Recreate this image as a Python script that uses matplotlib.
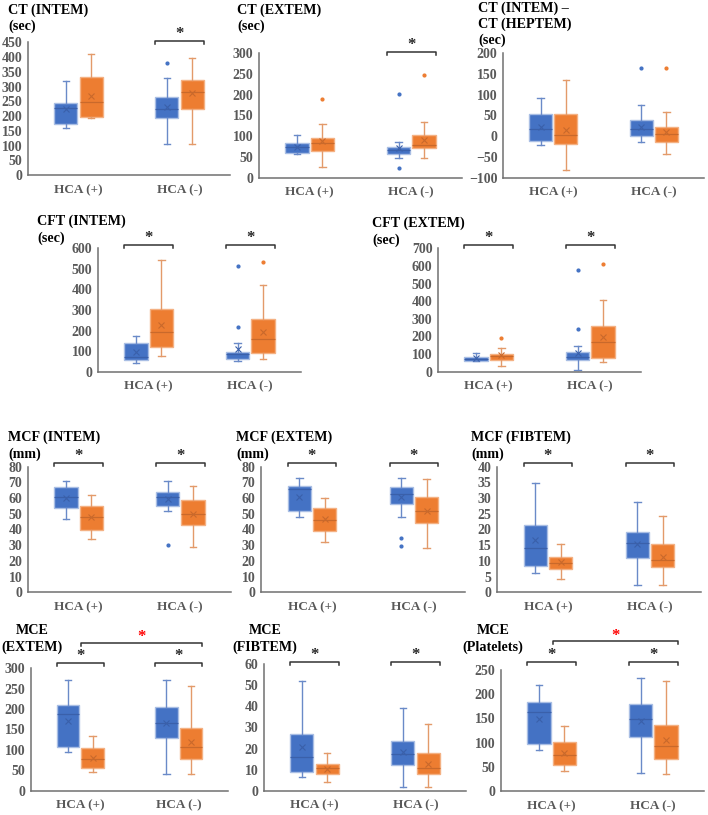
import matplotlib
matplotlib.use("Agg")
import matplotlib.pyplot as plt
from matplotlib.transforms import blended_transform_factory

plt.rcParams['font.family'] = ['Liberation Serif', 'DejaVu Serif']
plt.rcParams['font.weight'] = 'bold'

W, H = 708, 815

categories = ["HCA (+)", "HCA (-)"]

# stats rows: [whislo, q1, median, q3, whishi, mean]
# order: blue HCA(+), orange HCA(+), blue HCA(-), orange HCA(-)
ct_intem_stats = [[161, 173, 228, 243, 319, 224],
                  [193, 198, 247, 331, 410, 269],
                  [104, 192, 224, 264, 330, 232],
                  [104, 225, 282, 322, 398, 277]]
ct_intem_fliers = [[], [], [381], []]

ct_extem_stats = [[57, 60, 73, 83, 103, 75],
                  [27, 64, 83, 96, 129, 88],
                  [48, 58, 68, 74, 86, 71],
                  [48, 71, 78, 102, 135, 91]]
ct_extem_fliers = [[], [190], [201, 23], [247]]

ct_diff_stats = [[-22, -11, 17, 54, 91, 22],
                 [-81, -19, 3, 53, 135, 14],
                 [-15, 1, 18, 40, 76, 23],
                 [-43, -14, 6, 22, 59, 10]]
ct_diff_fliers = [[], [], [165], [165]]

cft_intem_stats = [[41, 55, 73, 138, 175, 94],
                   [75, 122, 193, 303, 543, 227],
                   [53, 62, 84, 97, 141, 109],
                   [60, 89, 159, 254, 420, 191]]
cft_intem_fliers = [[], [], [514, 216], [532]]

cft_extem_stats = [[59, 62, 74, 85, 108, 78],
                   [30, 68, 87, 98, 132, 93],
                   [11, 64, 85, 112, 147, 105],
                   [55, 78, 170, 259, 405, 198]]
cft_extem_fliers = [[], [193], [575, 242], [611]]

mcf_intem_stats = [[47, 53.5, 61, 67, 71, 60],
                   [34, 40, 48, 55, 62, 48],
                   [51.6, 55, 61, 64, 71, 59.5],
                   [29, 43, 50, 59, 67.5, 50]]
mcf_intem_fliers = [[], [], [30], []]

mcf_extem_stats = [[48, 51.6, 65.6, 68, 73, 61],
                   [32, 39, 46, 54, 60, 46.5],
                   [48, 56.5, 62.6, 67, 73, 60.7],
                   [28.5, 44, 52, 60.7, 72.4, 52]]
mcf_extem_fliers = [[], [], [34.6, 29.5], []]

mcf_fibtem_stats = [[6.3, 8.4, 14, 21.3, 34.7, 16.7],
                    [4.2, 7.4, 9.4, 11.4, 15.3, 9.6],
                    [2.3, 11, 15.6, 19.3, 28.6, 15.4],
                    [2.3, 7.9, 10.3, 15.4, 24.4, 11.4]]
mcf_fibtem_fliers = [[], [], [], []]

mce_extem_stats = [[94, 107, 187, 211, 271, 171],
                   [45, 56, 78, 104, 135, 81],
                   [42, 130, 165, 204, 271, 165],
                   [40, 78, 106, 154, 257, 120]]
mce_extem_fliers = [[], [], [], []]

mce_fibtem_stats = [[6.3, 8.9, 15.8, 27, 52, 20.9],
                    [4.3, 7.8, 10.6, 12.5, 17.9, 10.3],
                    [1.9, 12.2, 17.2, 23.7, 39.4, 18.5],
                    [1.9, 8, 11, 17.7, 31.8, 12.8]]
mce_fibtem_fliers = [[], [], [], []]

mce_plt_stats = [[84, 97, 164, 184, 220, 149],
                 [42, 54, 74, 102, 134, 79],
                 [37, 111, 148, 179, 233, 145],
                 [35, 66, 92, 136, 227, 105]]
mce_plt_fliers = [[], [], [], []]

# colours: fill, box edge, whisker, median/mean
BLUE_SET = ('#4472C4', '#A9BEE4', '#6A8AC8', '#3A60AA')
ORANGE_SET = ('#ED7D31', '#F4B183', '#E39A6A', '#C9692B')
TICK_COLOR = '#595959'
SPINE_COLOR = '#707070'

fig = plt.figure(figsize=(W / 100, H / 100), dpi=100)


def fy(ypx):
    return 1 - ypx / H


def fx(xpx):
    return xpx / W


def make_stats(rows, fliers):
    out = []
    for r, f in zip(rows, fliers):
        out.append(dict(whislo=r[0], q1=r[1], med=r[2], q3=r[3], whishi=r[4],
                        mean=r[5], fliers=f))
    return out


def panel(left, top, bottom, width, ylim, ystep, rows, fliers, sig, red=None):
    ax = fig.add_axes([fx(left), fy(bottom), fx(width), (bottom - top) / H])
    stats = make_stats(rows, fliers)
    cpos = [0.5, 1.5]
    off = 0.125
    bw = 0.23
    for idx, (fc, ec, wc, mc) in enumerate([BLUE_SET, ORANGE_SET]):
        sub = [stats[idx], stats[idx + 2]]
        pos = [c + (off if idx else -off) for c in cpos]
        ax.bxp(sub, positions=pos, widths=bw, patch_artist=True, showmeans=True,
               manage_ticks=False, capwidths=0.065,
               boxprops=dict(facecolor=fc, edgecolor=ec, linewidth=1),
               whiskerprops=dict(color=wc, linewidth=1),
               capprops=dict(color=wc, linewidth=1),
               medianprops=dict(color=mc, linewidth=0.9),
               meanprops=dict(marker='x', markeredgecolor=mc, markersize=4,
                              markeredgewidth=0.8),
               flierprops=dict(marker='o', markerfacecolor=fc, markeredgecolor=fc,
                               markersize=2.0, linestyle='none'))
    ax.set_xlim(0, 2)
    ax.set_ylim(*ylim)
    yt = []
    v = ylim[0]
    while v <= ylim[1] + 1e-9:
        yt.append(v)
        v += ystep
    ax.set_yticks(yt)
    ax.set_xticks(cpos)
    ax.set_xticklabels(categories)
    for s in ['top', 'right']:
        ax.spines[s].set_visible(False)
    for s in ['left', 'bottom']:
        ax.spines[s].set_color(SPINE_COLOR)
        ax.spines[s].set_linewidth(1.1)
    ax.tick_params(axis='both', length=0, colors=TICK_COLOR)
    ax.tick_params(axis='y', pad=4, labelsize=10)
    ax.tick_params(axis='x', pad=6.5, labelsize=9.5)
    for lab in ax.get_xticklabels() + ax.get_yticklabels():
        lab.set_fontweight('bold')
    tr = blended_transform_factory(ax.transData, fig.transFigure)
    ybr, ystar, groups = sig
    for g in groups:
        x1, x2 = cpos[g] - 0.24, cpos[g] + 0.24
        ax.plot([x1, x1, x2, x2], [fy(ybr + 3), fy(ybr), fy(ybr), fy(ybr + 3)],
                color='#333333', lw=1.1, transform=tr, clip_on=False)
        ax.text(cpos[g], fy(ystar), '*', ha='center', va='center', fontsize=12,
                color='#262626', transform=tr)
    if red:
        ry, rs = red
        x1, x2 = cpos[0] + 0.01, cpos[1] + 0.24
        ax.plot([x1, x1, x2, x2], [fy(ry + 3), fy(ry), fy(ry), fy(ry + 3)],
                color='#333333', lw=1.1, transform=tr, clip_on=False)
        ax.text((x1 + x2) / 2, fy(rs), '*', ha='center', va='center', fontsize=12,
                color='#FF0000', transform=tr)
    return ax


def title(x, ys, lines, ha='left'):
    for y, t in zip(ys, lines):
        fig.text(fx(x), fy(y), t, ha=ha, va='center', fontsize=10.2,
                 fontweight='bold', color='black')


# Row 1
panel(28, 42.3, 175, 202, (0, 450), 50, ct_intem_stats, ct_intem_fliers,
      (41, 34, [1]))
title(8, [10, 26], ["CT (INTEM)", "(sec)"])

panel(259, 53.3, 177.7, 203, (0, 300), 50, ct_extem_stats, ct_extem_fliers,
      (51.7, 45, [1]))
title(237, [10, 26], ["CT (EXTEM)", "(sec)"])

panel(503, 53.3, 177.7, 201, (-100, 200), 50, ct_diff_stats, ct_diff_fliers,
      (0, 0, []))
title(478, [8, 24, 40], ["CT (INTEM) \u2013", "CT (HEPTEM)", "(sec)"])

# Row 2
panel(98, 248.3, 371.7, 203, (0, 600), 100, cft_intem_stats, cft_intem_fliers,
      (245, 238, [0, 1]))
title(37, [221, 238], ["CFT (INTEM)", "(sec)"])

panel(438, 248.3, 371.7, 203, (0, 700), 100, cft_extem_stats, cft_extem_fliers,
      (245, 238, [0, 1]))
title(372, [223, 240], ["CFT (EXTEM)", "(sec)"])

# Row 3
panel(28, 466.7, 592.3, 203, (0, 80), 10, mcf_intem_stats, mcf_intem_fliers,
      (463, 456, [0, 1]))
title(8, [437, 454], ["MCF (INTEM)", "(mm)"])

panel(261, 466.7, 592.3, 204, (0, 80), 10, mcf_extem_stats, mcf_extem_fliers,
      (463, 456, [0, 1]))
title(236, [437, 454], ["MCF (EXTEM)", "(mm)"])

panel(497, 466.7, 592.3, 204, (0, 40), 5, mcf_fibtem_stats, mcf_fibtem_fliers,
      (463, 456, [0, 1]))
title(471, [437, 454], ["MCF (FIBTEM)", "(mm)"])

# Row 4
panel(31, 668.3, 790.7, 197, (0, 300), 50, mce_extem_stats, mce_extem_fliers,
      (663, 656, [0, 1]), red=(643, 637))
title(32, [630, 647], ["MCE", "(EXTEM)"], ha='center')

panel(264, 664.3, 790.7, 202, (0, 60), 10, mce_fibtem_stats, mce_fibtem_fliers,
      (662, 655, [0, 1]))
title(265, [630, 647], ["MCE", "(FIBTEM)"], ha='center')

panel(501, 670, 791, 203, (0, 250), 50, mce_plt_stats, mce_plt_fliers,
      (662, 655, [0, 1]), red=(641, 636))
title(493, [630, 647], ["MCE", "(Platelets)"], ha='center')

fig.savefig("out.png", dpi=100)
